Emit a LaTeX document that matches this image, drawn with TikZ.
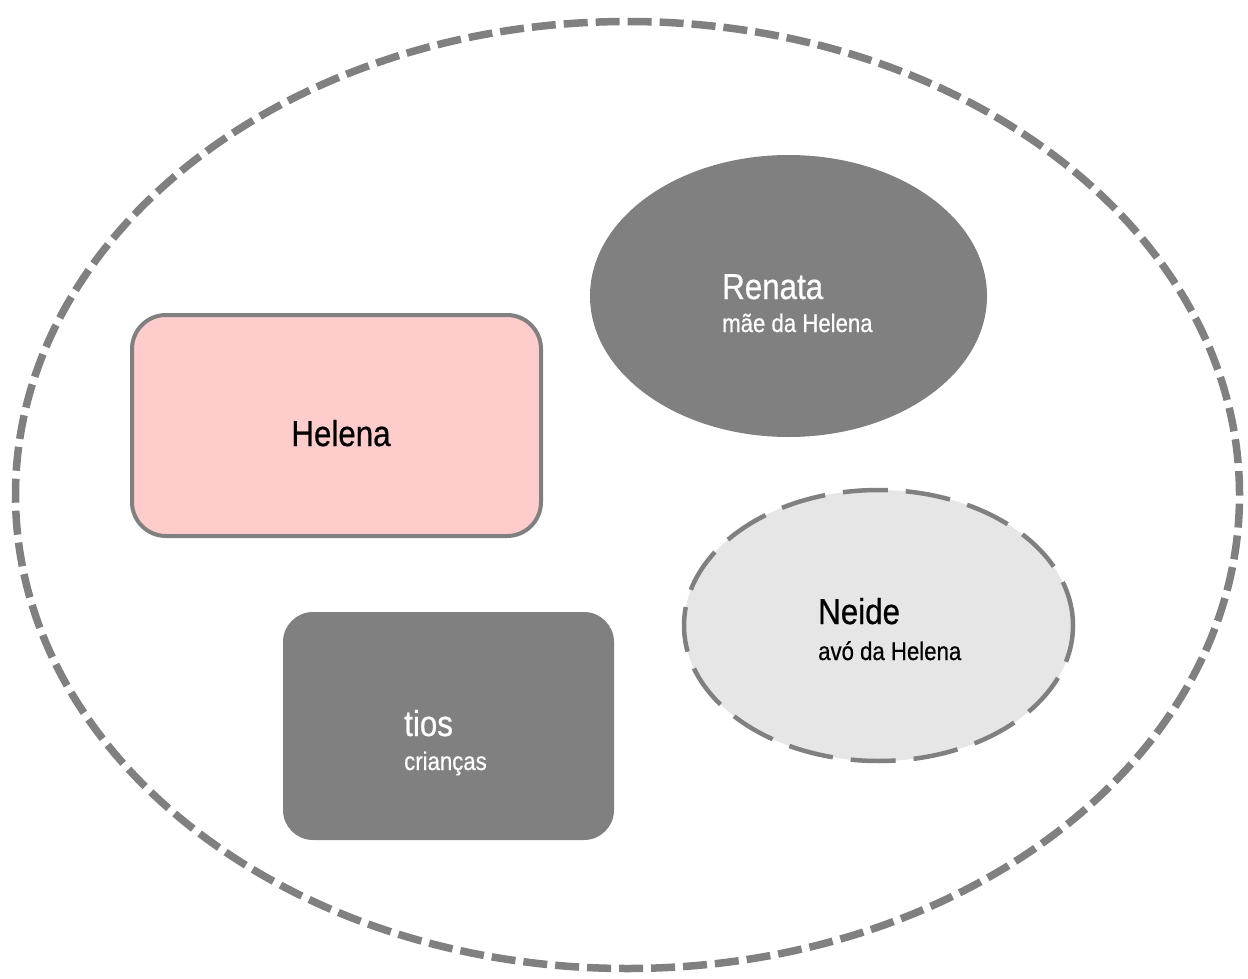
\documentclass[tikz,border=0pt]{standalone}
\usepackage{fontspec}
\setmainfont{Liberation Sans}[FakeStretch=0.87, FakeBold=0.6]
\usetikzlibrary{shapes.geometric}
\definecolor{boxgray}{HTML}{808080}
\definecolor{lightfill}{HTML}{E6E6E6}
\definecolor{pinkfill}{HTML}{FFCCCC}
\tikzset{
  circle dashes/.style={draw=boxgray, dash pattern=on 24pt off 8pt},
  darkblob/.style={fill=boxgray, draw=none, inner sep=0pt},
  title/.style={anchor=base west, inner sep=0pt, font=\fontsize{36}{40}\selectfont},
  subtitle/.style={anchor=base west, inner sep=0pt, font=\fontsize{25.5}{28}\selectfont},
}
\begin{document}
\begin{tikzpicture}[x=1pt,y=-1pt]
\useasboundingbox (0,0) rectangle (1248,979);
% outer family circle
\node[ellipse, circle dashes, line width=7.5pt, minimum width=1224pt, minimum height=947pt, inner sep=0pt]
  (familia) at (627.5,495) {};
% Helena
\node[rectangle, rounded corners=34pt, fill=pinkfill, draw=boxgray, line width=4pt,
  minimum width=409pt, minimum height=221pt, inner sep=0pt] (helena) at (336.5,425.5) {};
\node[anchor=base, inner sep=0pt, font=\fontsize{36}{40}\selectfont, text=black] (helenatxt) at (341,446) {Helena};
% Renata
\node[ellipse, darkblob, minimum width=397pt, minimum height=282pt] (renata) at (788.5,296) {};
\node[title, text=white] (renatatxt) at (722,299) {Renata};
\node[subtitle, text=white] (renatasub) at (722,332) {mãe da Helena};
% Neide
\node[ellipse, fill=lightfill, draw=boxgray, line width=4.5pt, dash pattern=on 45pt off 18pt,
  minimum width=389pt, minimum height=271pt, inner sep=0pt] (neide) at (878.5,625.5) {};
\node[title, text=black] (neidetxt) at (818,624) {Neide};
\node[subtitle, text=black] (neidesub) at (818,660) {avó da Helena};
% tios
\node[rectangle, rounded corners=30pt, darkblob, minimum width=331pt, minimum height=228pt] (tios) at (448.5,726) {};
\node[title, text=white] (tiostxt) at (404,736) {tios};
\node[subtitle, text=white] (tiossub) at (404,770) {crianças};
\end{tikzpicture}
\end{document}
